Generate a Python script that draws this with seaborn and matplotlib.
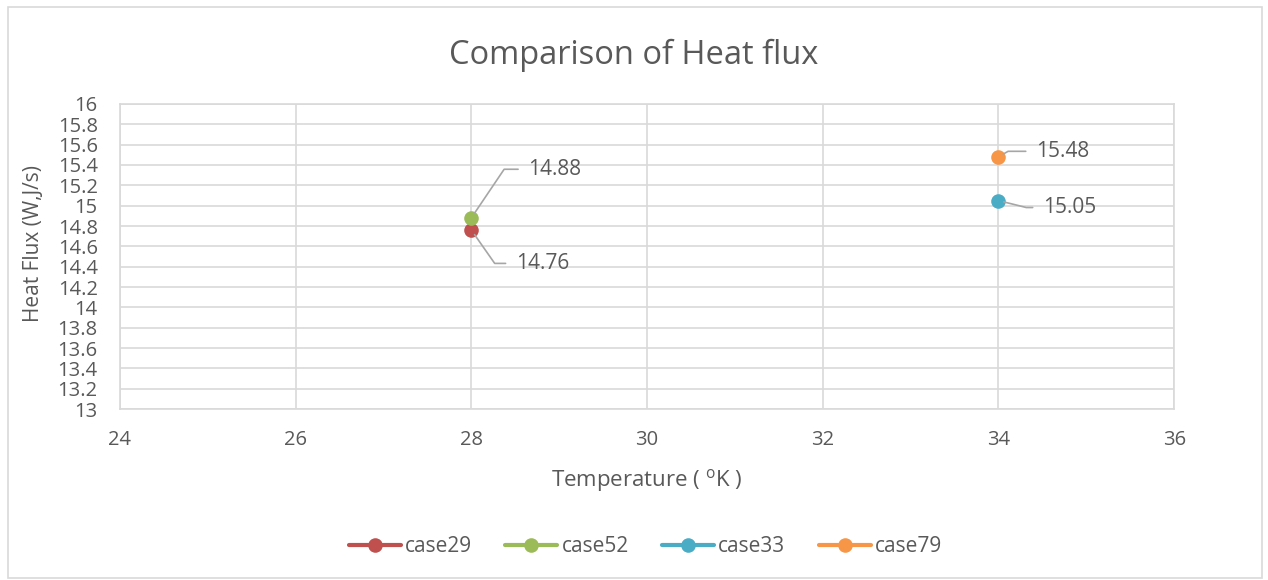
import matplotlib.pyplot as plt
import matplotlib.patches as mpatches
import pandas as pd
import seaborn as sns

# Data
cases = ['case29', 'case52', 'case33', 'case79']
temperature = [28, 28, 34, 34]
heat_flux = [14.76, 14.88, 15.05, 15.48]
colors = ['#C0504D', '#9BBB59', '#4BACC6', '#F79646']

# label offsets (points) and leader line angles
label_offsets = [(32, -24), (41, 35), (32, -5), (27, 4)]
leader_angles = [-55, 56, -14, 30]

df = pd.DataFrame({'case': cases, 'temperature': temperature, 'heat_flux': heat_flux})

sns.set_style('white')
plt.rcParams['font.family'] = ['Open Sans', 'DejaVu Sans']
text_color = '#595959'
grid_color = '#D9D9D9'

fig, ax = plt.subplots(figsize=(12.68, 5.8), dpi=100)
fig.subplots_adjust(left=0.0946, right=0.926, top=0.8207, bottom=0.2948)

sns.lineplot(data=df, x='temperature', y='heat_flux', hue='case', hue_order=cases,
             palette=colors, marker='o', markersize=10.5, markeredgewidth=0,
             linewidth=3, ax=ax, zorder=3)

# Data labels with leader lines
for x, y, (dx, dy), ang in zip(temperature, heat_flux, label_offsets, leader_angles):
    ax.annotate(f'{y:.2f}', xy=(x, y), xytext=(dx, dy), textcoords='offset points',
                ha='left', va='center', fontsize=15, color=text_color,
                arrowprops=dict(arrowstyle='-', color='#A6A6A6', lw=1.2,
                                relpos=(0, 0.5), shrinkA=5, shrinkB=4,
                                connectionstyle=f'angle,angleA=0,angleB={ang},rad=0'))

ax.set_xlim(24, 36)
ax.set_ylim(13, 16)
ax.set_xticks(range(24, 37, 2))
ax.set_yticks([13 + 0.2 * i for i in range(16)])
ax.set_yticklabels([f'{13 + 0.2 * i:g}' if i % 5 else f'{13 + 0.2 * i:.0f}' for i in range(16)])
ax.grid(True, color=grid_color, linewidth=1.2)
ax.set_axisbelow(True)
for s in ax.spines.values():
    s.set_color(grid_color)
    s.set_linewidth(1.2)
ax.tick_params(axis='both', length=0, labelsize=14.5, colors=text_color)
ax.tick_params(axis='x', pad=15)
ax.tick_params(axis='y', pad=16)

ax.set_title('Comparison of Heat flux', fontsize=23.5, color=text_color, pad=29)
ax.title.set_x(0.487)
ax.set_xlabel('Temperature ( $^{\\mathregular{o}}$K )', fontsize=16, color=text_color, labelpad=12)
ax.set_ylabel('Heat Flux (W,J/s)', fontsize=15, color=text_color)
ax.yaxis.set_label_coords(-0.072, 0.544)

handles, labels = ax.get_legend_handles_labels()
ax.legend(handles, labels, loc='center', bbox_to_anchor=(0.509, 0.057),
          bbox_transform=fig.transFigure, ncol=4, frameon=False, fontsize=15,
          labelcolor=text_color, handlelength=2.5, handletextpad=0.2, columnspacing=1.6)

# Outer chart border
fig.patches.append(mpatches.Rectangle((0.006, 0.004), 0.989, 0.984, transform=fig.transFigure,
                                      fill=False, edgecolor=grid_color, linewidth=1.2))

plt.savefig('out.png', dpi=100)
